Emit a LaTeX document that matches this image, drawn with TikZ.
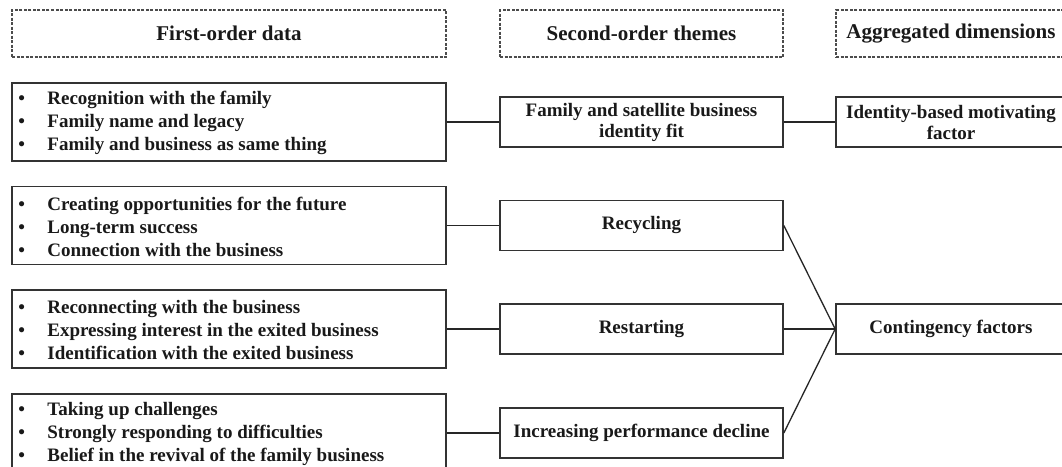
\documentclass[tikz,border=0pt]{standalone}
\usepackage{fontspec}
\setmainfont{Liberation Serif}
\newcommand{\bul}{\makebox[29pt][l]{\textbullet}}

\begin{document}
\begin{tikzpicture}[x=1pt,y=-1pt,
    hdr/.style={draw=black!70,line width=1.1pt,dash pattern=on 3pt off 1.5pt,minimum height=47pt,inner sep=0pt,text=black!90,font=\bfseries\fontsize{21}{21}\selectfont},
    databox/.style={draw=black!80,line width=1.6pt,minimum width=434pt,minimum height=78pt,inner sep=0pt},
    theme/.style={draw=black!80,line width=1.6pt,minimum width=283pt,minimum height=50pt,align=center,inner sep=0pt,text=black!90,font=\bfseries\fontsize{19}{21}\selectfont},
    dimbox/.style={theme,minimum width=230pt},
    items/.style={anchor=west,align=left,inner sep=0pt,text=black!90,font=\bfseries\fontsize{19}{23}\selectfont},
    link/.style={draw=black!85,line width=1.3pt}]
    \fill[white] (0,0) rectangle (1062,466);
    \useasboundingbox (0,0) rectangle (1062,466);
    \clip (0,0) rectangle (1062,466);
    \node[hdr,minimum width=434pt] (h1) at (229,33.5) {First-order data};
    \node[hdr,minimum width=283pt] (h2) at (641.5,33.5) {Second-order themes};
    \node[hdr,minimum width=230pt] (h3) at (951,33.5) {Aggregated dimensions};
    \node[databox] (L1) at (229,122) {};
    \node[databox] (L2) at (229,225.5) {};
    \node[databox] (L3) at (229,329) {};
    \node[databox] (L4) at (229,433) {};
    \node[items] (d1) at ([xshift=7pt,yshift=-1pt]L1.west) {\bul Recognition with the family\\\bul Family name and legacy\\\bul Family and business as same thing};
    \node[items] (d2) at ([xshift=7pt,yshift=-1pt]L2.west) {\bul Creating opportunities for the future\\\bul Long-term success\\\bul Connection with the business};
    \node[items] (d3) at ([xshift=7pt,yshift=-1pt]L3.west) {\bul Reconnecting with the business\\\bul Expressing interest in the exited business\\\bul Identification with the exited business};
    \node[items] (d4) at ([xshift=7pt,yshift=-1pt]L4.west) {\bul Taking up challenges\\\bul Strongly responding to difficulties\\\bul Belief in the revival of the family business};
    \node[theme] (M1) at (641.5,122) {Family and satellite business\\identity fit};
    \node[theme] (M2) at (641.5,225.5) {Recycling};
    \node[theme] (M3) at (641.5,329) {Restarting};
    \node[theme] (M4) at (641.5,433) {Increasing performance decline};
    \node[dimbox] (R1) at (951,122) {Identity-based motivating\\factor};
    \node[dimbox] (R2) at (951,329) {Contingency factors};
    \foreach \i in {1,...,4} \draw[link] (L\i.east) -- (M\i.west);
    \draw[link] (M1.east) -- (R1.west);
    \foreach \i in {2,3,4} \draw[link] (M\i.east) -- (R2.west);
\end{tikzpicture}
\end{document}
